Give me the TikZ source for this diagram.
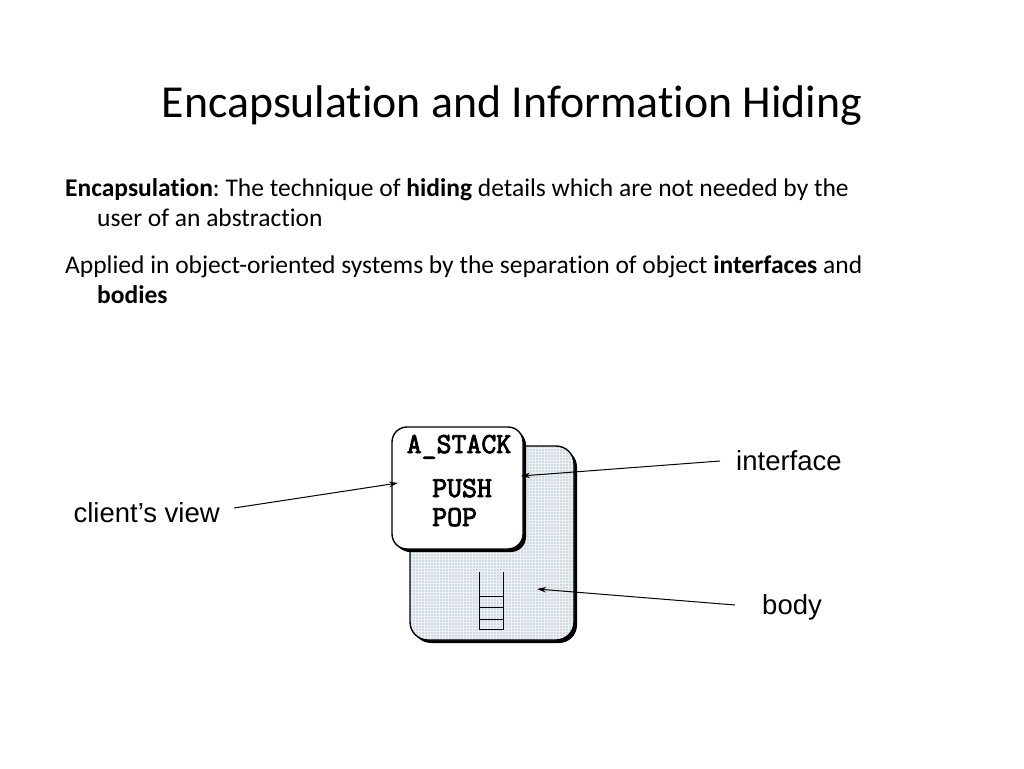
\documentclass[tikz,border=0pt]{standalone}
\usepackage{fontspec}
\setmainfont{Carlito}[RawFeature=-liga]
\newfontfamily\arialf{Liberation Sans}
\newfontfamily\courf{Latin Modern Mono}[FakeBold=3]
\usetikzlibrary{arrows.meta,patterns.meta}
\definecolor{bodyfill}{RGB}{236,241,246}
\definecolor{dotcol}{RGB}{125,135,150}
\frenchspacing
\begin{document}
\begin{tikzpicture}[x=1pt,y=-1pt,
  txt/.style={inner sep=0pt,anchor=base west,font=\fontsize{25.5}{30}\selectfont},
  lbl/.style={inner ysep=0pt,font=\arialf\fontsize{27.5}{32}\selectfont},
  code/.style={inner sep=0pt,anchor=base west,font=\courf\fontsize{29}{34}\selectfont},
  arr/.style={line width=1pt,-{Stealth[length=9pt,width=5.5pt]}},
  shadow/.style={fill=black,rounded corners=#1},
  boxline/.style={draw=black,line width=1.4pt}]
\useasboundingbox (0,0) rectangle (1024,768);
\fill[white] (0,0) rectangle (1024,768);
% title
\node[inner sep=0pt,anchor=base] (title) at (512,117) {\fontsize{45.8}{54}\selectfont Encapsulation and Information Hiding};
% body text
\node[txt] (p1) at (65,196) {\textbf{Encapsulation}: The technique of \textbf{hiding} details which are not needed by the};
\node[txt] (p1b) at (97,226) {user of an abstraction};
\node[txt] (p2) at (65,273) {Applied in object-oriented systems by the separation of object \textbf{interfaces} and};
\node[txt] (p2b) at (97,303) {\textbf{bodies}};
% body box
\fill[shadow=18pt] (413,449) rectangle (577,643);
\fill[bodyfill,rounded corners=18pt] (410,446) rectangle (574,640);
\fill[pattern={Dots[distance=3pt,radius=0.6pt]},pattern color=dotcol,rounded corners=18pt] (410,446) rectangle (574,640);
\draw[boxline,rounded corners=18pt] (410,446) rectangle (574,640);
\node[inner sep=0pt] (bodybox) at (492,543) {};
% stack
\draw[line width=1pt] (479,572) -- (479,629) -- (503,629) -- (503,572);
\draw[line width=1pt] (479,596) -- (503,596) (479,607) -- (503,607) (479,619) -- (503,619);
% interface box
\fill[shadow=15pt] (395,430) rectangle (526,552);
\fill[white,rounded corners=15pt] (392,427) rectangle (523,549);
\draw[boxline,rounded corners=15pt] (392,427) rectangle (523,549);
\node[inner sep=0pt] (ifacebox) at (457,488) {};
\node[code,anchor=base] (astack) at (459,453) {A\_STACK};
\node[code] (push) at (432,497) {PUSH};
\node[code] (pop) at (432,526) {POP};
% labels
\node[lbl,anchor=west,inner xsep=16pt] (interface) at (720,461) {interface};
\node[lbl,anchor=east,inner xsep=14pt] (client) at (234,513) {client’s view};
\node[lbl,anchor=west,inner xsep=27pt] (bodylbl) at (735,607) {body};
\coordinate (cv) at (398,483);
\coordinate (ifp) at (521,476);
\coordinate (bp) at (537,589);
\draw[arr] ([yshift=5pt]client.east) -- (cv);
\draw[arr] (interface.west) -- (ifp);
\draw[arr] ([yshift=2pt]bodylbl.west) -- (bp);
\end{tikzpicture}
\end{document}
